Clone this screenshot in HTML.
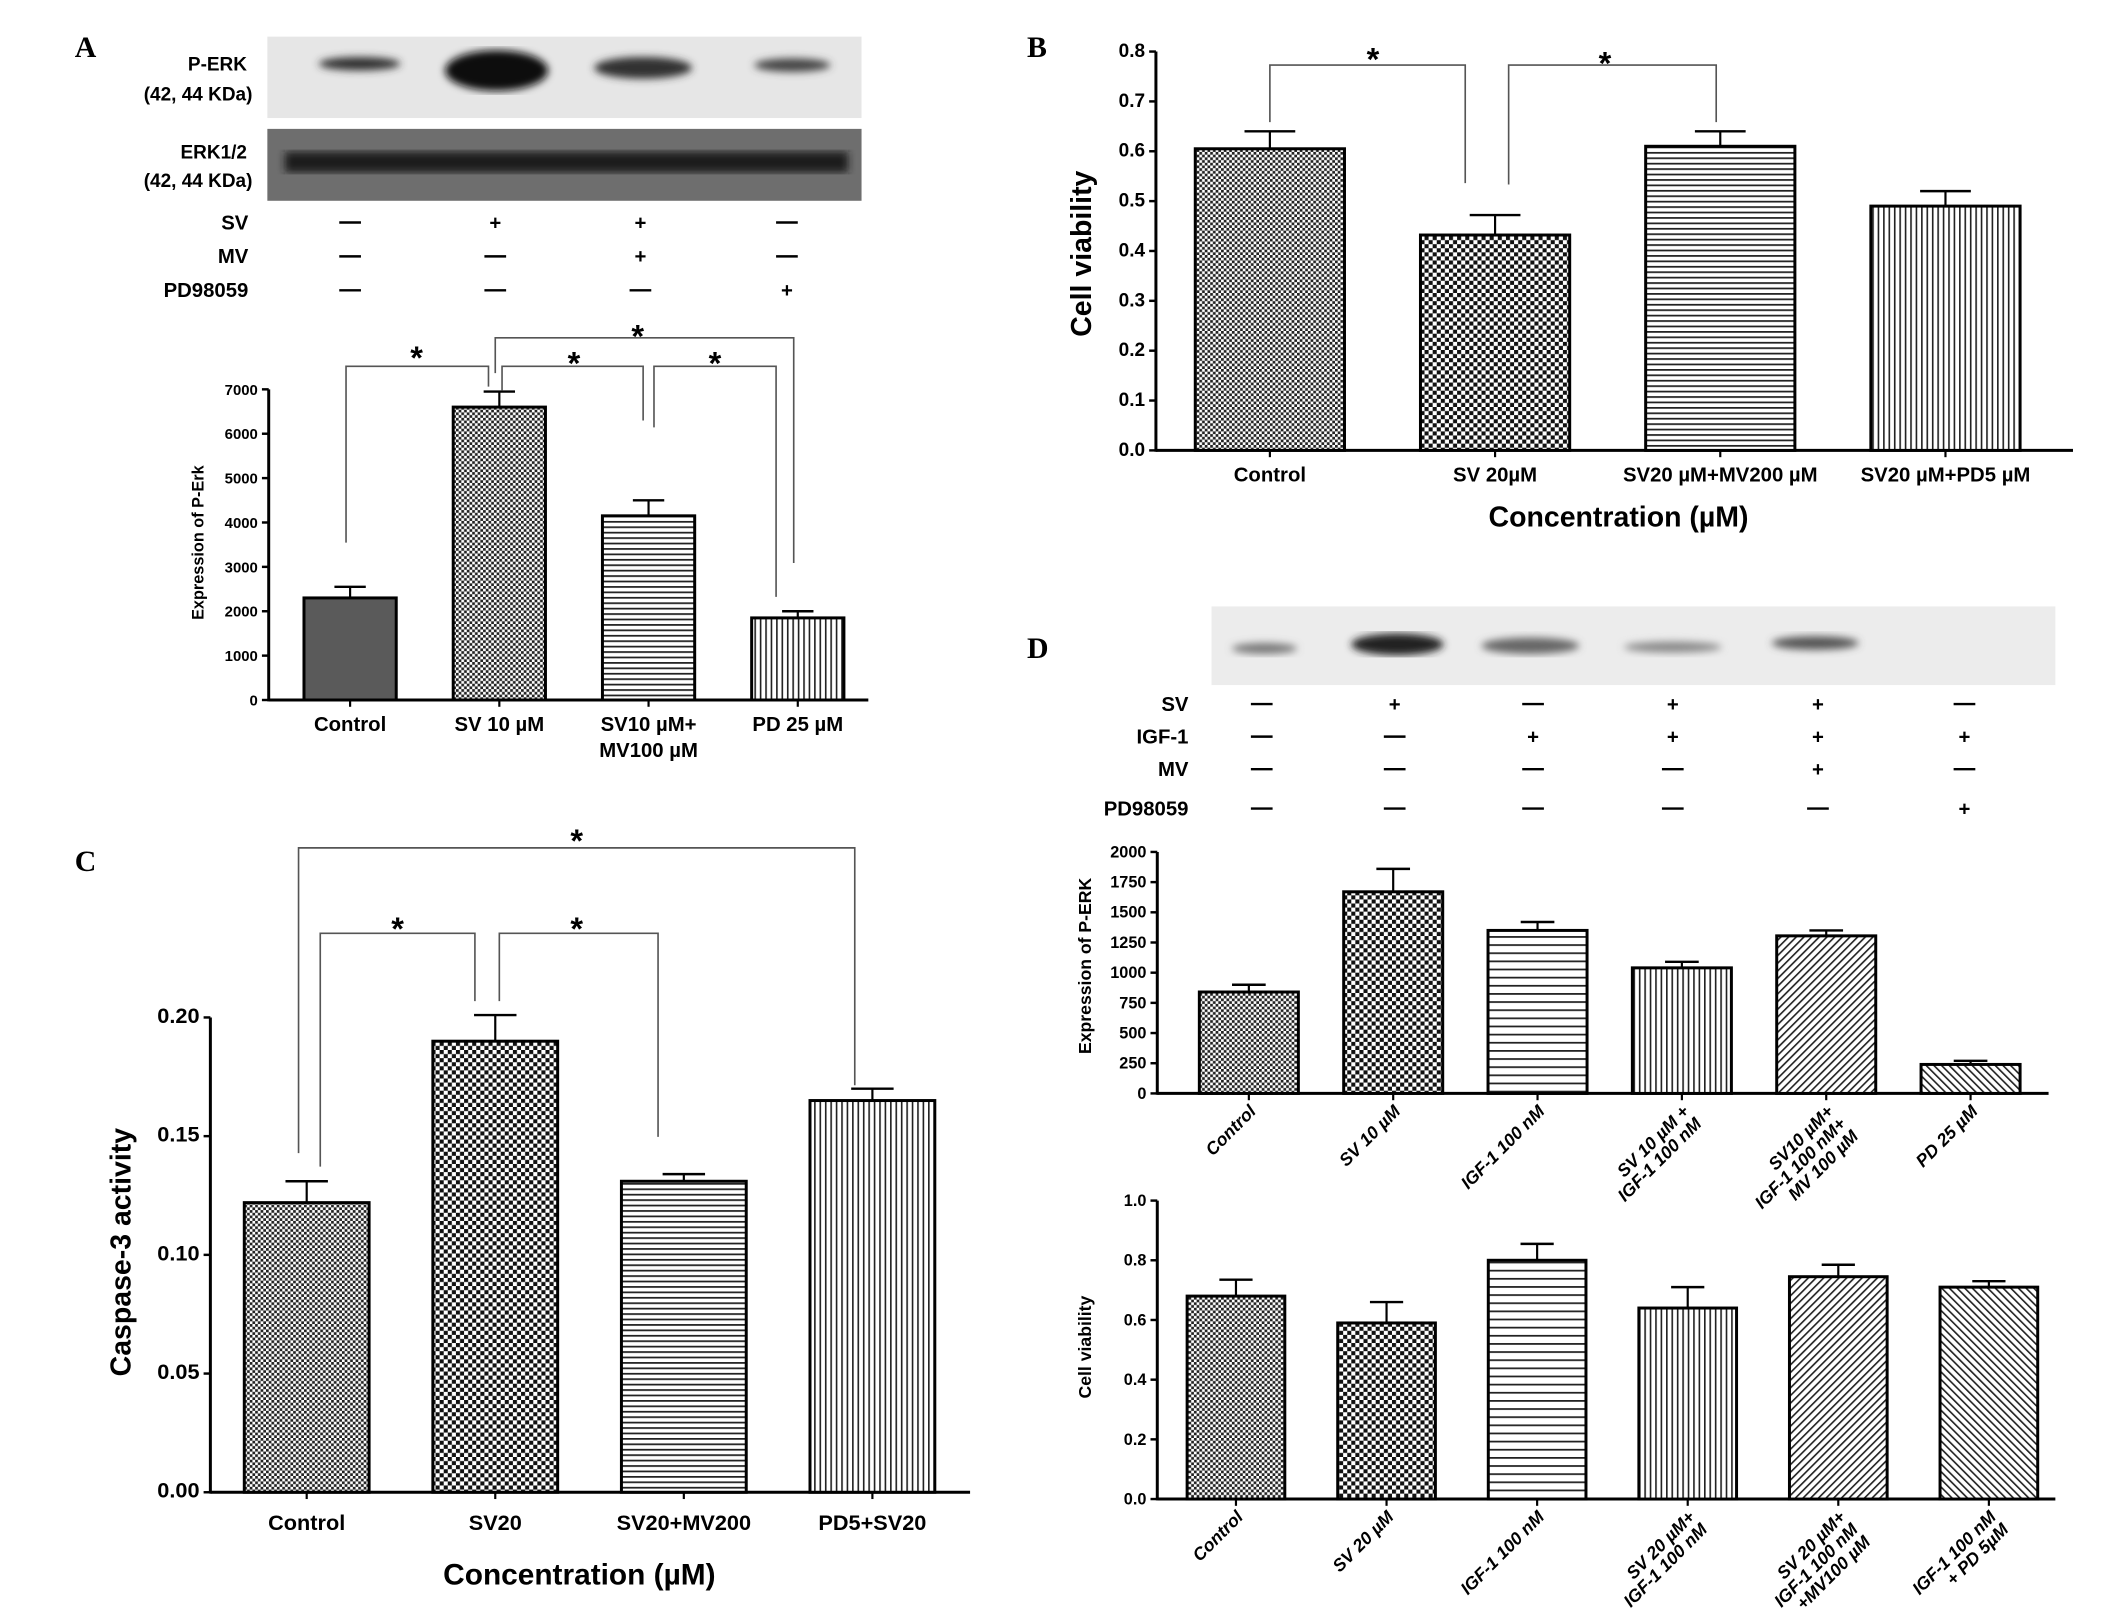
<!DOCTYPE html>
<html><head><meta charset="utf-8"><style>
html,body{margin:0;padding:0;background:#fff;}
svg{display:block;font-family:"Liberation Sans",Arial,sans-serif;}
.b{font-weight:bold;}
</style></head><body>
<svg id="fig" width="2126" height="1613" viewBox="0 0 1567 1189" xmlns="http://www.w3.org/2000/svg">
<defs>
<pattern id="pChk" width="4" height="4" patternUnits="userSpaceOnUse"><rect width="4" height="4" fill="#fff"/><rect width="2" height="2" fill="#222"/><rect x="2" y="2" width="2" height="2" fill="#222"/></pattern>
<pattern id="pChkBig" width="6" height="6" patternUnits="userSpaceOnUse"><rect width="6" height="6" fill="#fff"/><rect width="3" height="3" fill="#111"/><rect x="3" y="3" width="3" height="3" fill="#111"/></pattern>
<pattern id="pHor" width="4" height="4" patternUnits="userSpaceOnUse"><rect width="4" height="4" fill="#fff"/><rect width="4" height="1.3" fill="#222"/></pattern>
<pattern id="pHorW" width="6" height="6" patternUnits="userSpaceOnUse"><rect width="6" height="6" fill="#fff"/><rect width="6" height="1.3" fill="#222"/></pattern>
<pattern id="pVer" width="4" height="4" patternUnits="userSpaceOnUse"><rect width="4" height="4" fill="#fff"/><rect width="1.2" height="4" fill="#222"/></pattern>
<pattern id="pDiag" width="4" height="4" patternUnits="userSpaceOnUse" patternTransform="rotate(45)"><rect width="4" height="4" fill="#fff"/><rect width="1.2" height="4" fill="#222"/></pattern>
<pattern id="pDiag2" width="4" height="4" patternUnits="userSpaceOnUse" patternTransform="rotate(-45)"><rect width="4" height="4" fill="#fff"/><rect width="1.2" height="4" fill="#222"/></pattern>
<filter id="blur"><feGaussianBlur stdDeviation="3"/></filter>
</defs>

<text x="55" y="42" font-family="Liberation Serif" font-weight="bold" font-size="22">A</text>
<text x="757" y="42" font-family="Liberation Serif" font-weight="bold" font-size="22">B</text>
<text x="55" y="642" font-family="Liberation Serif" font-weight="bold" font-size="22">C</text>
<text x="757" y="485" font-family="Liberation Serif" font-weight="bold" font-size="22">D</text>

<g>
<rect x="197" y="27" width="438" height="60" fill="#e6e6e6"/>
<g filter="url(#blur)">
<ellipse cx="265" cy="47" rx="30" ry="5" fill="#333"/>
<ellipse cx="366" cy="52" rx="38" ry="15" fill="#111"/>
<ellipse cx="474" cy="50" rx="36" ry="8" fill="#333"/>
<ellipse cx="584" cy="48" rx="28" ry="5" fill="#444"/>
</g>
<rect x="197" y="95" width="438" height="53" fill="#6e6e6e"/>
<g filter="url(#blur)"><rect x="210" y="112" width="415" height="15" fill="#1e1e1e"/></g>
<text class="b" x="182" y="52" font-size="14" text-anchor="end">P-ERK</text>
<text class="b" x="186" y="74" font-size="14" text-anchor="end">(42, 44 KDa)</text>
<text class="b" x="182" y="117" font-size="14" text-anchor="end">ERK1/2</text>
<text class="b" x="186" y="138" font-size="14" text-anchor="end">(42, 44 KDa)</text>
</g>

<g>
<rect x="893" y="447" width="622" height="58" fill="#ececec"/>
<g filter="url(#blur)">
<ellipse cx="932" cy="478" rx="24" ry="4" fill="#777"/>
<ellipse cx="1030" cy="475" rx="34" ry="8" fill="#222"/>
<ellipse cx="1128" cy="476" rx="36" ry="6" fill="#666"/>
<ellipse cx="1233" cy="477" rx="36" ry="4" fill="#888"/>
<ellipse cx="1338" cy="474" rx="32" ry="5" fill="#555"/>
</g>
</g>
</svg>
<script>
var NS="http://www.w3.org/2000/svg";
var svg=document.getElementById('fig');
function el(tag,attrs,parent,txt){var e=document.createElementNS(NS,tag);for(var k in attrs)e.setAttribute(k,attrs[k]);if(txt!==undefined)e.textContent=txt;(parent||svg).appendChild(e);return e;}

var catsA=["Control","SV 10 µM","SV10 µM+|MV100 µM","PD 25 µM"];
var valsA=[2300,6600,4150,1850];
var errsA=[250,350,350,150];
var ticksA=[0,1000,2000,3000,4000,5000,6000,7000];

var catsB=["Control","SV 20µM","SV20 µM+MV200 µM","SV20 µM+PD5 µM"];
var valsB=[0.605,0.432,0.61,0.49];
var errsB=[0.035,0.04,0.03,0.03];
var ticksB=[0,0.1,0.2,0.3,0.4,0.5,0.6,0.7,0.8];

var catsC=["Control","SV20","SV20+MV200","PD5+SV20"];
var valsC=[0.122,0.19,0.131,0.165];
var errsC=[0.009,0.011,0.003,0.005];
var ticksC=[0,0.05,0.10,0.15,0.20];

var catsD1=["Control","SV 10 µM","IGF-1 100 nM","SV 10 µM +|IGF-1 100 nM","SV10 µM+|IGF-1 100 nM+|MV 100 µM","PD 25 µM"];
var valsD1=[840,1670,1350,1040,1305,240];
var errsD1=[60,190,70,50,45,30];
var ticksD1=[0,250,500,750,1000,1250,1500,1750,2000];

var catsD2=["Control","SV 20 µM","IGF-1 100 nM","SV 20 µM+|IGF-1 100 nM","SV 20 µM+|IGF-1 100 nM|+MV100 µM","IGF-1 100 nM|+ PD 5µM"];
var valsD2=[0.68,0.59,0.80,0.64,0.745,0.71];
var errsD2=[0.055,0.07,0.055,0.07,0.04,0.02];
var ticksD2=[0,0.2,0.4,0.6,0.8,1.0];

function chart(c){
  var g=el('g',{},svg);
  
  
  var max=c.ticks[c.ticks.length-1];
  function y(v){return c.y0-(v/max)*(c.y0-c.yTop);}
  var ax=el('line',{x1:c.ax,y1:c.y0,x2:c.xEnd,y2:c.y0,stroke:'#000','stroke-width':2.2},g);
  
  var ay=el('line',{x1:c.ax,y1:c.y0+1,x2:c.ax,y2:c.yTop,stroke:'#000','stroke-width':2.2},g);
  
  c.ticks.forEach(function(t){
    el('line',{x1:c.ax-5,y1:y(t),x2:c.ax,y2:y(t),stroke:'#000','stroke-width':1.8},g);
    var tl=el('text',{x:c.ax-8,y:y(t)+4,'font-size':c.tfs,'text-anchor':'end','font-weight':'bold'},g,c.fmt(t));
    
  });
  var n=c.vals.length;
  for(var i=0;i<n;i++){
    var x0=c.x0+i*c.step, w=c.bw, cx=x0+w/2;
    var top=y(c.vals[i]), et=y(c.vals[i]+c.errs[i]);
    el('line',{x1:cx,y1:top,x2:cx,y2:et,stroke:'#000','stroke-width':1.6},g);
    el('line',{x1:cx-w*0.17,y1:et,x2:cx+w*0.17,y2:et,stroke:'#000','stroke-width':1.8},g);
    var r=el('rect',{x:x0,y:top,width:w,height:c.y0-top,fill:c.fills[i],stroke:'#000','stroke-width':2.2},g);
    
    el('line',{x1:cx,y1:c.y0,x2:cx,y2:c.y0+5,stroke:'#000','stroke-width':1.6},g);
    var lines=c.cats[i].split('|');
    if(c.rot){
      var t=el('text',{transform:'translate('+(cx+6)+','+(c.y0+14)+') rotate(-45)','font-size':c.lfs,'text-anchor':'end','font-weight':'bold','font-style':'italic'},g);
      
      lines.forEach(function(s,k){el('tspan',{x:0,dy:k?c.lfs*1.0:0},t,s);});
    }else{
      lines.forEach(function(s,k){
        var t=el('text',{x:cx,y:c.y0+c.ly+k*19,'font-size':c.lfs,'text-anchor':'middle','font-weight':'bold'},g,s);
        
      });
    }
  }
  var yt=el('text',{transform:'translate('+c.ytx+','+c.yty+') rotate(-90)','font-size':c.yfs,'text-anchor':'middle','font-weight':'bold'},g,c.ytitle);
  
  if(c.xtitle){var xt=el('text',{x:c.xtx,y:c.xty,'font-size':c.xfs,'text-anchor':'middle','font-weight':'bold'},g,c.xtitle);
    }
  (c.brackets||[]).forEach(function(b){
    var p=el('polyline',{points:b.x1+','+b.y1+' '+b.x1+','+b.yb+' '+b.x2+','+b.yb+' '+b.x2+','+b.y2,fill:'none',stroke:'#555','stroke-width':1.2},g);
    
    var s=el('text',{x:b.sx,y:b.sy,'font-size':24,'text-anchor':'middle','font-weight':'bold'},g,'*');
    
  });
}
var f0=function(t){return String(t);};
var f1=function(t){return t.toFixed(1);};
var f2=function(t){return t.toFixed(2);};

chart({name:'chart-a',ax:198,y0:516,yTop:287,xEnd:640,x0:224,step:110,bw:68,vals:valsA,errs:errsA,cats:catsA,ticks:ticksA,fmt:f0,tfs:11,lfs:15,ly:23,
 fills:['#5a5a5a','url(#pChk)','url(#pHor)','url(#pVer)'],ytitle:'Expression of P-Erk',ytx:150,yty:400,yfs:12,
 brackets:[{x1:255,y1:400,x2:360,y2:285,yb:270,sx:307,sy:272},{x1:370,y1:288,x2:474,y2:310,yb:270,sx:423,sy:276},
 {x1:365,y1:275,x2:585,y2:415,yb:249,sx:470,sy:256},{x1:482,y1:315,x2:572,y2:440,yb:270,sx:527,sy:276}]});

chart({name:'chart-b',ax:852,y0:332,yTop:38,xEnd:1528,x0:881,step:166,bw:110,vals:valsB,errs:errsB,cats:catsB,ticks:ticksB,fmt:f1,tfs:14,lfs:15,ly:23,
 fills:['url(#pChk)','url(#pChkBig)','url(#pHor)','url(#pVer)'],ytitle:'Cell viability',ytx:804,yty:187,yfs:21,xtitle:'Concentration (µM)',xtx:1193,xty:388,xfs:21,
 brackets:[{x1:936,y1:90,x2:1080,y2:135,yb:48,sx:1012,sy:52},{x1:1112,y1:136,x2:1265,y2:90,yb:48,sx:1183,sy:55}]});

chart({name:'chart-c',ax:155,y0:1100,yTop:750,xEnd:715,x0:180,step:139,bw:92,vals:valsC,errs:errsC,cats:catsC,ticks:ticksC,fmt:f2,tfs:16,lfs:16,ly:28,
 fills:['url(#pChk)','url(#pChkBig)','url(#pHor)','url(#pVer)'],ytitle:'Caspase-3 activity',ytx:96,yty:923,yfs:21,xtitle:'Concentration (µM)',xtx:427,xty:1168,xfs:22,
 brackets:[{x1:220,y1:850,x2:630,y2:800,yb:625,sx:425,sy:628},{x1:236,y1:860,x2:350,y2:738,yb:688,sx:293,sy:693},{x1:368,y1:738,x2:485,y2:838,yb:688,sx:425,sy:693}]});

chart({name:'chart-d-expression',ax:853,y0:806,yTop:628,xEnd:1510,x0:884,step:106.4,bw:73,vals:valsD1,errs:errsD1,cats:catsD1,ticks:ticksD1,fmt:f0,tfs:12,lfs:13,rot:true,
 fills:['url(#pChk)','url(#pChkBig)','url(#pHorW)','url(#pVer)','url(#pDiag)','url(#pDiag2)'],ytitle:'Expression of P-ERK',ytx:804,yty:712,yfs:13});

chart({name:'chart-d-viability',ax:853,y0:1105,yTop:885,xEnd:1515,x0:875,step:111,bw:72,vals:valsD2,errs:errsD2,cats:catsD2,ticks:ticksD2,fmt:f1,tfs:12,lfs:13,rot:true,
 fills:['url(#pChk)','url(#pChkBig)','url(#pHorW)','url(#pVer)','url(#pDiag)','url(#pDiag2)'],ytitle:'Cell viability',ytx:804,yty:993,yfs:13});

var rowsA=["SV","MV","PD98059"];
var signsA=[["-","+","+","-"],["-","-","+","-"],["-","-","-","+"]];
var rowsD=["SV","IGF-1","MV","PD98059"];
var signsD=[["-","+","-","+","+","-"],["-","-","+","+","+","+"],["-","-","-","-","+","-"],["-","-","-","-","-","+"]];
function table(rows,signs,cols,ys,lx,name){
  var g=el('g',{},svg);
  
  rows.forEach(function(r,i){
    el('text',{x:lx,y:ys[i]+5,'font-size':15,'font-weight':'bold','text-anchor':'end'},g,r);
    signs[i].forEach(function(s,j){
      if(s==='+') el('text',{x:cols[j],y:ys[i]+5,'font-size':15,'font-weight':'bold','text-anchor':'middle'},g,'+');
      else el('line',{x1:cols[j]-8,y1:ys[i],x2:cols[j]+8,y2:ys[i],stroke:'#000','stroke-width':1.8},g);
    });
  });
}
table(rowsA,signsA,[258,365,472,580],[164,189,214],183,'treatment-table-a');
table(rowsD,signsD,[930,1028,1130,1233,1340,1448],[519,543,567,596],876,'treatment-table-d');
</script>
</body></html>
